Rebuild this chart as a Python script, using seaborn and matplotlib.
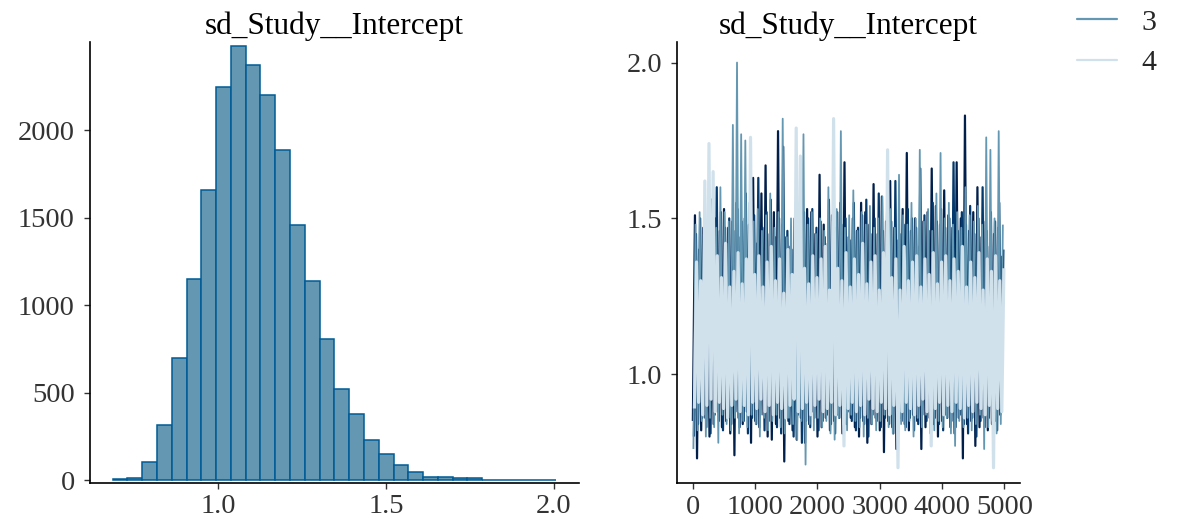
import numpy as np
import pandas as pd
import matplotlib
matplotlib.use("Agg")
import matplotlib.pyplot as plt
import seaborn as sns

# ---------------- data ----------------
panel_title = "sd_Study__Intercept"

# histogram of all posterior draws (30 bins)
hist_range = (0.6856, 2.0067)
hist_counts = [4, 13, 105, 314, 699, 1147, 1657, 2244, 2482, 2371,
               2198, 1886, 1455, 1137, 808, 518, 377, 229, 149, 85,
               48, 20, 19, 10, 9, 3, 2, 2, 1, 1]
hist_xticks = [1.0, 1.5, 2.0]
hist_yticks = [0, 500, 1000, 1500, 2000]

# trace plot: per chain, the low / high extent of the trace within each
# of 75 consecutive windows of iterations
n_iter = 5000
chain_names = ["1", "2", "3", "4"]
chain1_high = [1.51, 1.40, 1.47, 1.44, 1.56, 1.50, 1.46, 1.53, 1.47, 1.49, 1.55, 1.44, 1.50, 1.48, 1.63,
               1.42, 1.58, 1.67, 1.45, 1.52, 1.78, 1.48, 1.44, 1.41, 1.50, 1.43, 1.46, 1.53, 1.52, 1.45,
               1.64, 1.48, 1.42, 1.51, 1.47, 1.55, 1.68, 1.44, 1.50, 1.46, 1.55, 1.52, 1.48, 1.61, 1.45,
               1.57, 1.49, 1.62, 1.47, 1.43, 1.53, 1.71, 1.46, 1.50, 1.41, 1.49, 1.52, 1.66, 1.54, 1.48,
               1.59, 1.51, 1.47, 1.68, 1.50, 1.83, 1.46, 1.52, 1.60, 1.44, 1.49, 1.41, 1.45, 1.47, 1.38]
chain1_low = [0.85, 0.73, 0.82, 0.86, 0.80, 0.84, 0.88, 0.83, 0.85, 0.81, 0.74, 0.86, 0.84, 0.88, 0.78,
              0.85, 0.83, 0.87, 0.80, 0.79, 0.84, 0.86, 0.72, 0.85, 0.82, 0.79, 0.86, 0.78, 0.84, 0.88,
              0.80, 0.83, 0.86, 0.82, 0.85, 0.87, 0.81, 0.84, 0.86, 0.83, 0.80, 0.85, 0.78, 0.84, 0.86,
              0.82, 0.75, 0.85, 0.83, 0.76, 0.86, 0.84, 0.82, 0.87, 0.85, 0.76, 0.83, 0.86, 0.84, 0.80,
              0.85, 0.87, 0.83, 0.81, 0.86, 0.73, 0.84, 0.85, 0.77, 0.83, 0.86, 0.82, 0.84, 0.85, 0.87]
chain2_high = [1.45, 1.50, 1.43, 1.55, 1.48, 1.60, 1.52, 1.47, 1.50, 1.46, 1.53, 1.49, 1.58, 1.45, 1.51,
               1.63, 1.47, 1.52, 1.56, 1.44, 1.50, 1.73, 1.46, 1.40, 1.48, 1.45, 1.52, 1.50, 1.53, 1.47,
               1.49, 1.44, 1.56, 1.46, 1.52, 1.48, 1.50, 1.43, 1.55, 1.47, 1.51, 1.56, 1.45, 1.50, 1.58,
               1.46, 1.52, 1.49, 1.62, 1.45, 1.48, 1.53, 1.50, 1.47, 1.66, 1.51, 1.46, 1.55, 1.49, 1.53,
               1.47, 1.50, 1.68, 1.46, 1.52, 1.48, 1.54, 1.45, 1.50, 1.60, 1.46, 1.52, 1.49, 1.55, 1.40]
chain2_low = [0.80, 0.84, 0.86, 0.83, 0.81, 0.87, 0.85, 0.82, 0.86, 0.84, 0.88, 0.83, 0.85, 0.81, 0.86,
              0.84, 0.87, 0.82, 0.85, 0.88, 0.83, 0.81, 0.86, 0.84, 0.80, 0.87, 0.78, 0.85, 0.83, 0.86,
              0.82, 0.85, 0.87, 0.84, 0.81, 0.86, 0.83, 0.88, 0.85, 0.82, 0.86, 0.84, 0.80, 0.87, 0.85,
              0.83, 0.86, 0.84, 0.81, 0.87, 0.85, 0.83, 0.86, 0.82, 0.84, 0.87, 0.85, 0.81, 0.86, 0.84,
              0.82, 0.86, 0.85, 0.83, 0.87, 0.84, 0.81, 0.86, 0.80, 0.85, 0.83, 0.86, 0.84, 0.82, 0.88]
chain3_high = [1.48, 1.52, 1.45, 1.50, 1.56, 1.47, 1.60, 1.52, 1.49, 1.80, 2.00, 1.77, 1.75, 1.55, 1.49,
               1.53, 1.46, 1.51, 1.58, 1.47, 1.52, 1.82, 1.44, 1.50, 1.47, 1.53, 1.77, 1.48, 1.52, 1.45,
               1.50, 1.46, 1.60, 1.49, 1.53, 1.78, 1.47, 1.51, 1.59, 1.46, 1.52, 1.48, 1.54, 1.47, 1.50,
               1.57, 1.49, 1.53, 1.47, 1.64, 1.51, 1.48, 1.55, 1.50, 1.72, 1.49, 1.53, 1.46, 1.58, 1.71,
               1.50, 1.55, 1.48, 1.52, 1.47, 1.60, 1.51, 1.49, 1.54, 1.48, 1.76, 1.72, 1.50, 1.78, 1.48]
chain3_low = [0.76, 0.82, 0.85, 0.80, 0.86, 0.83, 0.78, 0.87, 0.84, 0.82, 0.86, 0.81, 0.85, 0.83, 0.87,
              0.84, 0.80, 0.86, 0.82, 0.85, 0.87, 0.83, 0.81, 0.86, 0.84, 0.79, 0.85, 0.71, 0.84, 0.82,
              0.86, 0.83, 0.85, 0.81, 0.79, 0.86, 0.84, 0.82, 0.87, 0.85, 0.83, 0.80, 0.86, 0.84, 0.82,
              0.85, 0.87, 0.83, 0.81, 0.86, 0.84, 0.82, 0.85, 0.80, 0.86, 0.83, 0.87, 0.84, 0.82, 0.85,
              0.83, 0.86, 0.81, 0.77, 0.85, 0.83, 0.86, 0.82, 0.84, 0.87, 0.76, 0.83, 0.85, 0.81, 0.84]
chain4_high = [1.36, 1.30, 1.62, 1.74, 1.65, 1.38, 1.31, 1.42, 1.28, 1.33, 1.39, 1.29, 1.37, 1.76, 1.32,
               1.38, 1.28, 1.36, 1.41, 1.30, 1.37, 1.26, 1.40, 1.32, 1.79, 1.70, 1.34, 1.29, 1.38, 1.31,
               1.37, 1.41, 1.27, 1.82, 1.34, 1.30, 1.39, 1.28, 1.37, 1.32, 1.42, 1.29, 1.36, 1.38, 1.27,
               1.39, 1.72, 1.31, 1.37, 1.27, 1.41, 1.30, 1.36, 1.38, 1.28, 1.37, 1.32, 1.39, 1.29, 1.36,
               1.38, 1.30, 1.37, 1.33, 1.41, 1.28, 1.36, 1.31, 1.39, 1.27, 1.37, 1.33, 1.38, 1.30, 1.34]
chain4_low = [0.89, 0.91, 0.87, 0.90, 0.92, 0.88, 0.91, 0.89, 0.86, 0.90, 0.92, 0.88, 0.90, 0.87, 0.91,
              0.89, 0.92, 0.88, 0.90, 0.87, 0.91, 0.89, 0.86, 0.90, 0.92, 0.88, 0.89, 0.91, 0.87, 0.90,
              0.92, 0.88, 0.89, 0.91, 0.87, 0.90, 0.77, 0.89, 0.91, 0.88, 0.90, 0.87, 0.92, 0.89, 0.88,
              0.91, 0.89, 0.87, 0.90, 0.70, 0.88, 0.91, 0.89, 0.87, 0.90, 0.92, 0.88, 0.77, 0.89, 0.91,
              0.87, 0.90, 0.88, 0.91, 0.89, 0.86, 0.90, 0.88, 0.91, 0.89, 0.87, 0.90, 0.70, 0.89, 0.88]
trace_xticks = [0, 1000, 2000, 3000, 4000, 5000]
trace_yticks = [1.0, 1.5, 2.0]
legend_shown = ["3", "4"]

# ---------------- style ----------------
chain_colors = {"1": "#011f4b", "2": "#03396c", "3": "#6497b1", "4": "#d1e1ec"}
chain_widths = {"1": 1.6, "2": 1.6, "3": 1.3, "4": 2.3}
chain_shift = {"1": 0.0, "2": 0.5, "3": 0.25, "4": 0.75}   # fraction of a window
hist_fill = "#6497b1"
hist_edge = "#005b96"
text_col = "#333333"

sns.set_theme(style="ticks")
plt.rcParams["font.family"] = ["Liberation Serif", "DejaVu Serif"]

fig = plt.figure(figsize=(11.8, 5.23), dpi=100)
W, H = 1180.0, 523.0


def px_axes(l, t, r, b):
    return fig.add_axes([l / W, 1 - b / H, (r - l) / W, (b - t) / H])


ax1 = px_axes(90, 42, 579, 482.5)
ax2 = px_axes(677.3, 42, 1020, 483.3)

# ---- histogram ----
n_bins = len(hist_counts)
width = (hist_range[1] - hist_range[0]) / n_bins
centers = hist_range[0] + width * (np.arange(n_bins) + 0.5)
hist_df = pd.DataFrame({"value": centers, "count": np.asarray(hist_counts, dtype=float)})
sns.histplot(data=hist_df, x="value", weights="count", bins=n_bins, binrange=hist_range,
             ax=ax1, color=hist_fill, edgecolor=hist_edge, linewidth=1.1, alpha=1.0)
ax1.set_xlim(0.618, 2.075)
ax1.set_ylim(-14, 2503)
ax1.set_xticks(hist_xticks)
ax1.set_xticklabels([f"{v:.1f}" for v in hist_xticks])
ax1.set_yticks(hist_yticks)
ax1.set_yticklabels([str(v) for v in hist_yticks])

# ---- trace ----
highs = [chain1_high, chain2_high, chain3_high, chain4_high]
lows = [chain1_low, chain2_low, chain3_low, chain4_low]
frames = []
for name, hi, lo in zip(chain_names, highs, lows):
    vals = np.column_stack([lo, hi]).ravel()
    step = (n_iter - 1) / len(vals)
    it = 1 + step * (np.arange(len(vals)) + chain_shift[name])
    frames.append(pd.DataFrame({"iteration": it, "value": vals, "chain": name}))
df = pd.concat(frames, ignore_index=True)
sns.lineplot(data=df, x="iteration", y="value", hue="chain", hue_order=chain_names,
             palette=chain_colors, estimator=None, sort=False, linewidth=1.4, ax=ax2)
for line, name in zip(ax2.lines[:4], chain_names):
    line.set_linewidth(chain_widths[name])
    line.set_solid_capstyle("butt")
ax2.set_xlim(-249, 5250)
ax2.set_ylim(0.650, 2.066)
ax2.set_xticks(trace_xticks)
ax2.set_xticklabels([str(v) for v in trace_xticks])
ax2.set_yticks(trace_yticks)
ax2.set_yticklabels([f"{v:.1f}" for v in trace_yticks])

handles, labels = ax2.get_legend_handles_labels()
if ax2.get_legend() is not None:
    ax2.get_legend().remove()
sel = [(h, l) for h, l in zip(handles, labels) if l in legend_shown]
leg = fig.legend([s[0] for s in sel], [s[1] for s in sel], loc="upper left",
                 bbox_to_anchor=(1077 / W, 1 - 9 / H), frameon=False,
                 fontsize=21.5, handlelength=1.35, handletextpad=0.8,
                 labelspacing=0.45, borderpad=0, borderaxespad=0)
for line in leg.get_lines():
    line.set_linewidth(1.6)

for ax in (ax1, ax2):
    ax.set_xlabel("")
    ax.set_ylabel("")
    ax.set_title(panel_title, fontsize=22.5, color="black", pad=6)
    for s in ("top", "right"):
        ax.spines[s].set_visible(False)
    for s in ("left", "bottom"):
        ax.spines[s].set_color("black")
        ax.spines[s].set_linewidth(1.2)
    ax.tick_params(axis="both", length=4.5, width=1.0, color="#333333",
                   labelsize=20.5, labelcolor=text_col)
    ax.tick_params(axis="y", pad=6.5)
    ax.tick_params(axis="x", pad=4)

fig.savefig("out.png", dpi=100)
